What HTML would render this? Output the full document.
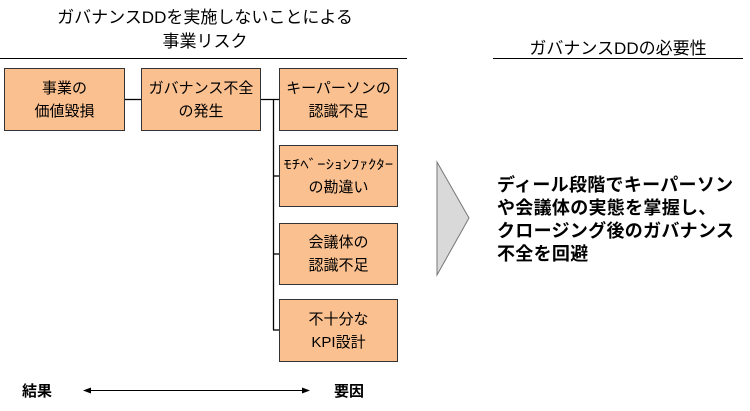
<!DOCTYPE html>
<html><head><meta charset="utf-8"><style>
body{margin:0;width:750px;height:411px;background:#fff;position:relative;overflow:hidden;font-family:"Liberation Sans","Noto Sans CJK JP",sans-serif;color:#000}
.a{position:absolute}
.box{position:absolute;background:#FAC090;border:1px solid #333;box-sizing:border-box;display:flex;align-items:center;justify-content:center;text-align:center;font-size:15px;line-height:23px}
.t{position:absolute;white-space:nowrap}
</style></head><body>
<div class="t" style="left:0;width:410px;top:6px;text-align:center;font-size:17px;line-height:24px">ガバナンスDDを実施しないことによる<br>事業リスク</div>
<div class="a" style="left:0;top:58px;width:407px;height:1px;background:#000"></div>
<div class="t" style="left:493px;width:250px;top:34px;text-align:center;font-size:17px">ガバナンスDDの必要性</div>
<div class="a" style="left:493px;top:58px;width:250px;height:1px;background:#000"></div>

<div class="box" style="left:4px;top:68px;width:121px;height:63px">事業の<br>価値毀損</div>
<div class="box" style="left:141px;top:68px;width:120px;height:63px">ガバナンス不全<br>の発生</div>
<div class="box" style="left:279px;top:68px;width:119px;height:63px">キーパーソンの<br>認識不足</div>
<div class="box" style="left:279px;top:145px;width:119px;height:62px"><span><span style="display:inline-block;font-size:13px;transform:scaleX(1.3)">ﾓﾁﾍﾞｰｼｮﾝﾌｧｸﾀｰ</span><br>の勘違い</span></div>
<div class="box" style="left:279px;top:223px;width:119px;height:62px">会議体の<br>認識不足</div>
<div class="box" style="left:279px;top:299px;width:119px;height:63px">不十分な<br>KPI設計</div>

<svg class="a" style="left:0;top:0" width="750" height="411">
<g stroke="#000" stroke-width="1.3" fill="none">
<line x1="125" y1="99.5" x2="141" y2="99.5"/>
<line x1="261" y1="99.5" x2="279" y2="99.5"/>
<line x1="273.5" y1="99" x2="273.5" y2="330"/>
<line x1="273" y1="176" x2="279" y2="176"/>
<line x1="273" y1="254" x2="279" y2="254"/>
<line x1="273" y1="330" x2="279" y2="330"/>
<line x1="84" y1="390.5" x2="308" y2="390.5" stroke-width="1"/>
</g>
<polygon points="83,390.5 91,387.5 91,393.5" fill="#000"/>
<polygon points="310,390.5 302,387.5 302,393.5" fill="#000"/>
<polygon points="437,162 469,218 437,275" fill="#d9d9d9" stroke="#777" stroke-width="1"/>
</svg>
<div class="t" style="left:22px;top:380px;font-size:15px;font-weight:bold">結果</div>
<div class="t" style="left:334px;top:380px;font-size:15px;font-weight:bold">要因</div>
<div class="t" style="left:497px;top:174px;font-size:18px;font-weight:bold;line-height:23px;letter-spacing:0.3px">ディール段階でキーパーソン<br>や会議体の実態を掌握し、<br>クロージング後のガバナンス<br>不全を回避</div>
</body></html>
